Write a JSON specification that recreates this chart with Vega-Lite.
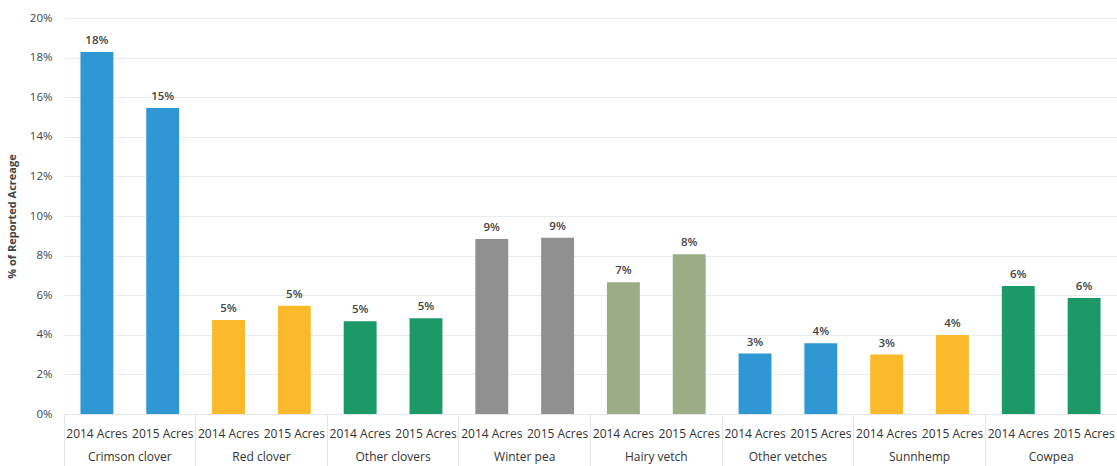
{
  "$schema": "https://vega.github.io/schema/vega-lite/v6.json",
  "width": 1053,
  "height": 396,
  "autosize": {"type": "none"},
  "padding": {"left": 64, "top": 18, "right": 0, "bottom": 52},
  "background": "white",
  "config": {
    "font": "Open Sans",
    "view": {"stroke": null}
  },
  "data": {
    "values": [
      {"crop": "Crimson clover", "year": "2014 Acres", "pct": 0.1828},
      {"crop": "Crimson clover", "year": "2015 Acres", "pct": 0.1545},
      {"crop": "Red clover", "year": "2014 Acres", "pct": 0.0475},
      {"crop": "Red clover", "year": "2015 Acres", "pct": 0.0547},
      {"crop": "Other clovers", "year": "2014 Acres", "pct": 0.0468},
      {"crop": "Other clovers", "year": "2015 Acres", "pct": 0.0483},
      {"crop": "Winter pea", "year": "2014 Acres", "pct": 0.0884},
      {"crop": "Winter pea", "year": "2015 Acres", "pct": 0.089},
      {"crop": "Hairy vetch", "year": "2014 Acres", "pct": 0.0665},
      {"crop": "Hairy vetch", "year": "2015 Acres", "pct": 0.0807},
      {"crop": "Other vetches", "year": "2014 Acres", "pct": 0.0305},
      {"crop": "Other vetches", "year": "2015 Acres", "pct": 0.0357},
      {"crop": "Sunnhemp", "year": "2014 Acres", "pct": 0.030},
      {"crop": "Sunnhemp", "year": "2015 Acres", "pct": 0.0399},
      {"crop": "Cowpea", "year": "2014 Acres", "pct": 0.0646},
      {"crop": "Cowpea", "year": "2015 Acres", "pct": 0.0586}
    ]
  },
  "encoding": {
    "x": {
      "field": "crop",
      "type": "nominal",
      "sort": null,
      "scale": {"paddingInner": 0, "paddingOuter": 0},
      "axis": {
        "title": null,
        "labelAngle": 0,
        "bandPosition": 0,
        "tickSize": 52,
        "tickColor": "#e3e6ea",
        "domainColor": "#e3e6ea",
        "labelPadding": -15,
        "labelFontSize": 12,
        "labelColor": "#333333",
        "labelBaseline": "top"
      }
    },
    "xOffset": {
      "field": "year",
      "type": "nominal",
      "scale": {"paddingInner": 0.5, "paddingOuter": 0.25}
    },
    "y": {
      "field": "pct",
      "type": "quantitative",
      "scale": {"domain": [0, 0.2]},
      "axis": {
        "title": "% of Reported Acreage",
        "titleFontSize": 11,
        "titleFontWeight": "bold",
        "titleColor": "#444444",
        "titlePadding": 12,
        "format": ".0%",
        "values": [0, 0.02, 0.04, 0.06, 0.08, 0.1, 0.12, 0.14, 0.16, 0.18, 0.2],
        "labelOverlap": false,
        "domain": false,
        "ticks": false,
        "labelPadding": 12,
        "labelFontSize": 11.5,
        "labelColor": "#444444",
        "gridColor": "#e8ecf0"
      }
    }
  },
  "layer": [
    {
      "mark": {"type": "bar"},
      "encoding": {
        "color": {
          "field": "crop",
          "type": "nominal",
          "legend": null,
          "scale": {
            "domain": ["Crimson clover", "Red clover", "Other clovers", "Winter pea", "Hairy vetch", "Other vetches", "Sunnhemp", "Cowpea"],
            "range": ["#2F97D4", "#FBBA2B", "#1B9A68", "#909090", "#9BAD85", "#2F97D4", "#FBBA2B", "#1B9A68"]
          }
        }
      }
    },
    {
      "mark": {"type": "text", "dy": -11, "fontSize": 11.5, "fontWeight": 600, "color": "#444444"},
      "encoding": {
        "text": {"field": "pct", "type": "quantitative", "format": ".0%"}
      }
    },
    {
      "mark": {"type": "text", "dy": 20, "fontSize": 12, "color": "#333333", "baseline": "middle"},
      "encoding": {
        "y": {"datum": 0, "type": "quantitative"},
        "text": {"field": "year", "type": "nominal"}
      }
    }
  ]
}
